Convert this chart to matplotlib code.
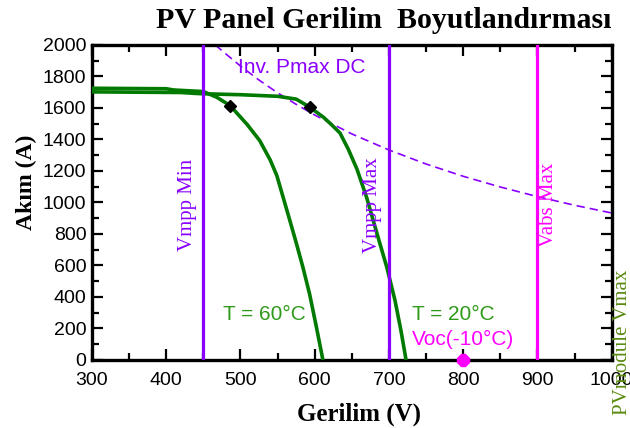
import numpy as np
import matplotlib.pyplot as plt
from matplotlib.ticker import MultipleLocator

# I-V curves of the PV string at two cell temperatures
v_60 = [300, 400, 410, 450, 468, 486, 509, 526, 540, 549, 557, 565, 575, 584, 593, 602, 611]
i_60 = [1725, 1722, 1714, 1704, 1668, 1615, 1495, 1392, 1270, 1170, 1040, 910, 745, 590, 420, 215, 0]

v_20 = [300, 420, 440, 450, 500, 550, 575, 593, 612, 623, 634, 645, 657, 670, 684, 697, 708, 716, 723]
i_20 = [1702, 1698, 1692, 1690, 1684, 1674, 1656, 1606, 1540, 1492, 1441, 1340, 1210, 1030, 800, 590, 380, 190, 0]

# maximum power points
mpp_v = [486, 593]
mpp_i = [1615, 1606]

# inverter max DC power limit (constant power line)
pmax_v = [466, 480, 500, 525, 550, 575, 600, 650, 700, 750, 800, 850, 900, 950, 1000]
pmax_i = [2000, 1944, 1866, 1777, 1696, 1623, 1555, 1435, 1333, 1244, 1166, 1098, 1037, 982, 933]

vmpp_min = 450
vmpp_max = 700
vabs_max = 900
voc_cold = 800

purple = "#8a00ff"
magenta = "#ff00ff"
green = "#007a00"
label_green = "#2f9a1a"

plt.rcParams["font.family"] = ["Liberation Sans", "DejaVu Sans"]

fig = plt.figure(figsize=(6.3, 4.28), dpi=100)
ax = fig.add_axes([0.146, 0.159, 0.825, 0.736])

ax.plot(v_60, i_60, color=green, lw=2.6, solid_capstyle="butt", zorder=3)
ax.plot(v_20, i_20, color=green, lw=2.6, solid_capstyle="butt", zorder=3)
ax.plot(mpp_v, mpp_i, "D", color="black", ms=6, zorder=5)

ax.plot(pmax_v, pmax_i, color=purple, lw=1.2, dashes=(5, 3), zorder=2)

ax.axvline(vmpp_min, color=purple, lw=2.3, zorder=4)
ax.axvline(vmpp_max, color=purple, lw=2.3, zorder=4)
ax.axvline(vabs_max, color=magenta, lw=2.3, zorder=4)

ax.plot([voc_cold], [0], "8", color=magenta, ms=9, clip_on=False, zorder=6)

serif = ["Liberation Serif", "DejaVu Serif"]
ax.text(428, 985, "Vmpp Min", rotation=90, color=purple, family=serif,
        fontsize=15, ha="center", va="center")
ax.text(678, 985, "Vmpp Max", rotation=90, color=purple, family=serif,
        fontsize=15, ha="center", va="center")
ax.text(915, 985, "Vabs Max", rotation=90, color=magenta, family=serif,
        fontsize=15, ha="center", va="center")
ax.text(1015, -349, "PVmodule Vmax", rotation=90, color="#5a8a10", family=serif,
        fontsize=15, ha="center", va="bottom", clip_on=False)

ax.text(497, 1854, "Inv. Pmax DC", color=purple, fontsize=15, ha="left", va="center")
ax.text(476, 286, "T = 60°C", color=label_green, fontsize=15, ha="left", va="center")
ax.text(731, 286, "T = 20°C", color=label_green, fontsize=15, ha="left", va="center")
ax.text(731, 127, "Voc(-10°C)", color=magenta, fontsize=15, ha="left", va="center")

ax.set_xlim(300, 1000)
ax.set_ylim(0, 2000)
ax.xaxis.set_major_locator(MultipleLocator(100))
ax.xaxis.set_minor_locator(MultipleLocator(50))
ax.yaxis.set_major_locator(MultipleLocator(200))
ax.yaxis.set_minor_locator(MultipleLocator(100))
ax.tick_params(which="both", direction="in", top=True, right=True, width=1.6,
               labelsize=14)
ax.tick_params(which="major", length=8)
ax.tick_params(which="minor", length=5)
ax.tick_params(axis="x", which="both", pad=9)
ax.tick_params(axis="y", which="both", pad=4)
for s in ax.spines.values():
    s.set_linewidth(2.4)

ax.set_xlabel("Gerilim (V)", family=serif, fontweight="bold", fontsize=18)
ax.set_ylabel("Akım (A)", family=serif, fontweight="bold", fontsize=17)
ax.xaxis.set_label_coords(0.513, -0.135)
ax.yaxis.set_label_coords(-0.106, 0.565)

fig.text(0.971, 0.935, "PV Panel Gerilim  Boyutlandırması", family=serif,
         fontweight="bold", fontsize=21.5, ha="right", va="baseline")

fig.savefig("out.png", dpi=100)
